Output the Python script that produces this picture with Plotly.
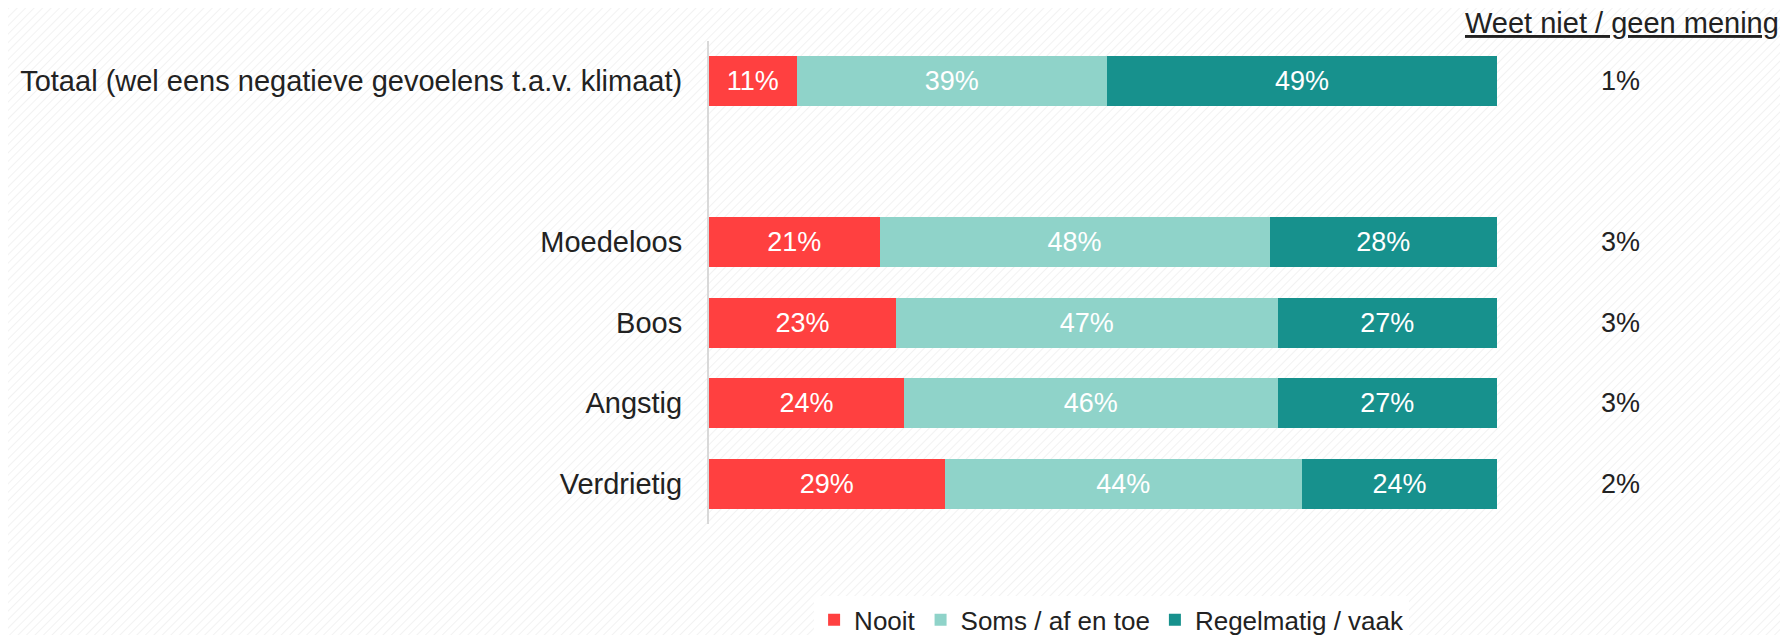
import base64
import plotly.graph_objects as go

# categories (top to bottom); " " row is an empty spacer slot
categories = ["Totaal (wel eens negatieve gevoelens t.a.v. klimaat)", " ",
              "Moedeloos", "Boos", "Angstig", "Verdrietig"]
nooit = [11, None, 21, 23, 24, 29]
soms = [39, None, 48, 47, 46, 44]
regelmatig = [49, None, 28, 27, 27, 24]
weet_niet = [1, None, 3, 3, 3, 2]

series = [
    ("Nooit", nooit, "#FF4040"),
    ("Soms / af en toe", soms, "#8FD3C9"),
    ("Regelmatig / vaak", regelmatig, "#17918D"),
]

FONT = "Liberation Sans, Arial"
TXT = "#222222"

# page body has an 8px margin, so the figure is 8px smaller than the window
W, H = 1780, 627
ML, MR, MT, MB = 701, 291, 33, 111
pw, ph = W - ML - MR, H - MT - MB

fig = go.Figure()
for name, vals, color in series:
    fig.add_trace(go.Bar(
        y=categories, x=vals, name=name, orientation="h",
        marker=dict(color=color, line=dict(width=0)),
        text=[f"{v}%" if v is not None else "" for v in vals],
        textposition="inside", insidetextanchor="middle",
        textfont=dict(color="white", size=27, family=FONT),
        hoverinfo="skip",
    ))

# "weet niet" column to the right of the bars
for cat, v in zip(categories, weet_niet):
    if v is None:
        continue
    fig.add_annotation(x=1.157, xref="paper", xanchor="center", y=cat, yref="y",
                       text=f"{v}%", showarrow=False, font=dict(size=27, color=TXT))

fig.add_annotation(x=1.159, xref="paper", xanchor="center", y=1.037, yref="paper",
                   yanchor="middle", text="<u>Weet niet / geen mening</u>",
                   showarrow=False, font=dict(size=29, color=TXT))

# faint diagonal hatching behind everything
svg = (f'<svg xmlns="http://www.w3.org/2000/svg" width="{W}" height="{H}">'
       '<defs><pattern id="p" width="6" height="6" patternUnits="userSpaceOnUse" '
       'patternTransform="rotate(45)"><line x1="0" y1="0" x2="0" y2="6" '
       'stroke="#EDEDED" stroke-width="1.4"/></pattern></defs>'
       f'<rect width="{W}" height="{H}" fill="url(#p)"/></svg>')
fig.add_layout_image(
    source="data:image/svg+xml;base64," + base64.b64encode(svg.encode()).decode(),
    xref="paper", yref="paper", x=-ML / pw, y=1 + MT / ph,
    sizex=W / pw, sizey=H / ph, sizing="stretch", xanchor="left", yanchor="top",
    layer="below",
)

fig.update_layout(
    width=W, height=H,
    barmode="stack", barnorm="percent", bargap=0.38,
    paper_bgcolor="white", plot_bgcolor="rgba(0,0,0,0)",
    margin=dict(l=ML, r=MR, t=MT, b=MB, autoexpand=False),
    font=dict(family=FONT, color=TXT),
    showlegend=True,
    legend=dict(orientation="h", xref="container", x=0.620, xanchor="center",
                yref="container", y=0.024, yanchor="middle",
                font=dict(size=26), traceorder="normal"),
    xaxis=dict(visible=False, range=[0, 100], fixedrange=True),
    yaxis=dict(categoryorder="array", categoryarray=categories, autorange="reversed",
               showline=True, linecolor="#D9D9D9", linewidth=2, showgrid=False,
               ticks="outside", ticklen=19, tickcolor="rgba(0,0,0,0)",
               tickfont=dict(size=29, color=TXT)),
)

fig.write_html("out.html")
